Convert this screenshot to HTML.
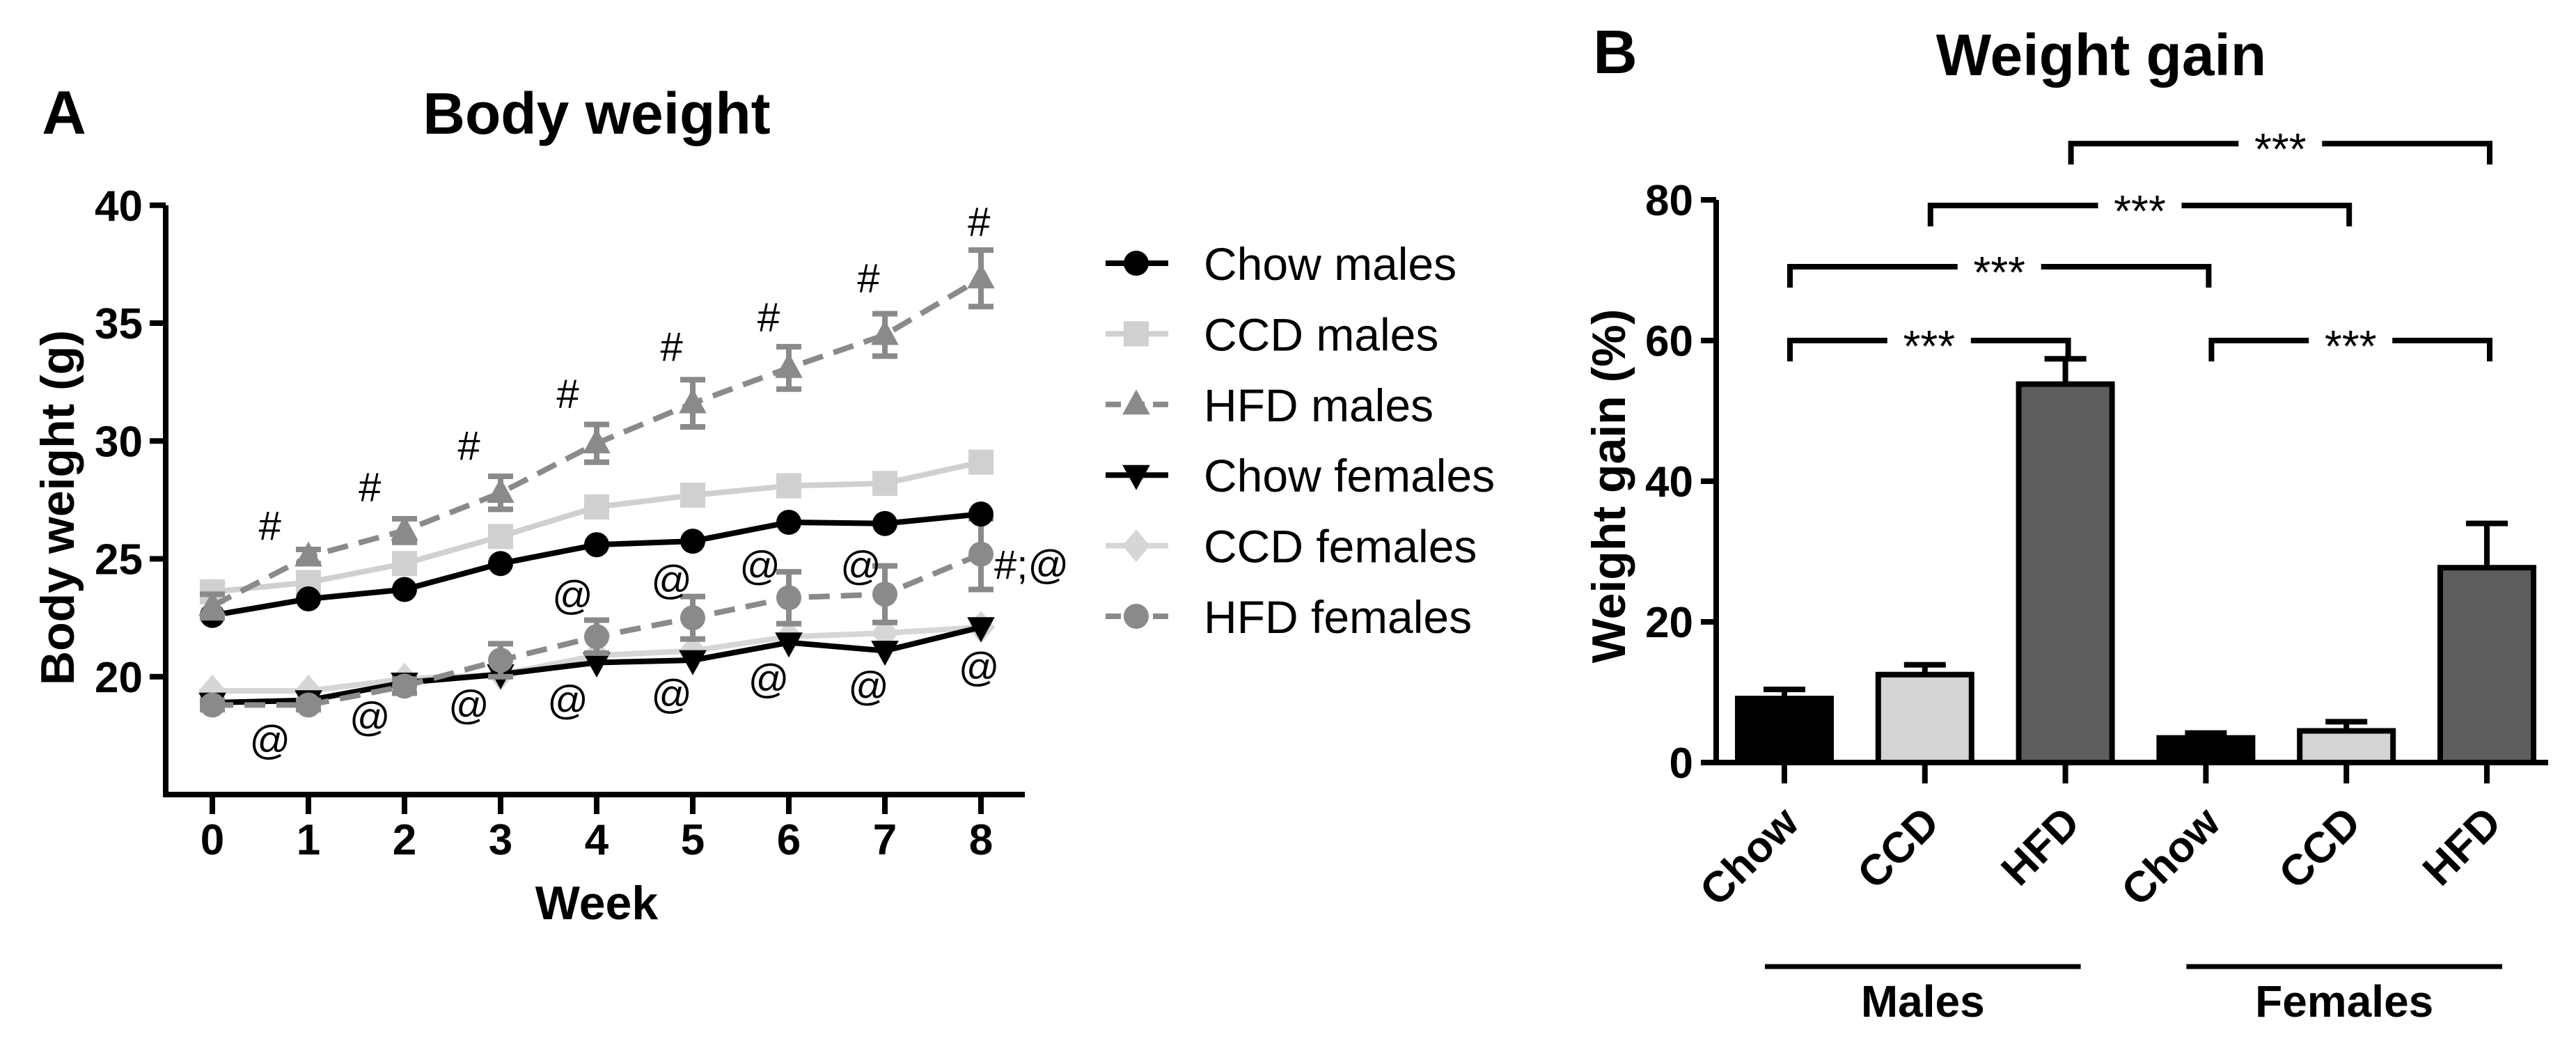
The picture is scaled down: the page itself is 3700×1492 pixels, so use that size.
<!DOCTYPE html>
<html><head><meta charset="utf-8"><style>
html,body{margin:0;padding:0;background:#fff;}
svg{display:block;font-family:"Liberation Sans",Arial,sans-serif;}
</style></head><body>
<svg id="fig" width="3700" height="1492" viewBox="0 0 3700 1492" xmlns="http://www.w3.org/2000/svg">
<rect width="3700" height="1492" fill="#fff"/>
<g id="panelA"></g>
<g id="panelB"></g>
</svg>
<script>
// ---------- Panel A data ----------
const weeks = [0,1,2,3,4,5,6,7,8];
const yTicksA = [20,25,30,35,40];
const chowMales = [22.6,23.3,23.7,24.8,25.6,25.75,26.55,26.5,26.9];
const ccdMales = [23.6,24.0,24.8,25.95,27.2,27.7,28.1,28.2,29.1];
const hfdMales = [23.0,25.1,26.2,27.8,29.9,31.6,33.1,34.5,36.9];
const hfdMalesErr = [0.5,0.3,0.5,0.7,0.8,1.0,0.9,0.9,1.2];
const chowFemales = [18.9,19.0,19.75,20.1,20.6,20.7,21.45,21.1,22.1];
const ccdFemales = [19.4,19.4,19.9,20.1,20.9,21.1,21.7,21.85,22.1];
const hfdFemales = [18.8,18.8,19.6,20.7,21.7,22.5,23.35,23.5,25.2];
const hfdFemalesErr = [0.2,0.2,0.3,0.7,0.7,0.9,1.1,1.2,1.5];
const hashX = [0.6,1.64,2.67,3.7,4.78,5.79,6.83,7.98];
const hashY = [26.4,28.05,29.8,32.0,34.0,35.25,36.9,39.3];
const atUpX = [3.75,4.78,5.7,6.75];
const atUpY = [23.45,24.1,24.7,24.7];
const atLowX = [0.6,1.64,2.67,3.7,4.78,5.79,6.83,7.98];
const atLowY = [17.3,18.3,18.8,19.0,19.25,19.9,19.6,20.4];
const legendLabels = ["Chow males","CCD males","HFD males","Chow females","CCD females","HFD females"];

// ---------- Panel B data ----------
const barCats = ["Chow","CCD","HFD","Chow","CCD","HFD"];
const barVals = [9.1,12.5,53.8,3.5,4.5,27.7];
const barErr = [1.3,1.4,3.6,0.7,1.3,6.3];
const yTicksB = [0,20,40,60,80];
const sigLeft = [0,0,1,2,3];
const sigRight = [2,3,4,5,5];
const sigLevel = [60,70.5,79.2,88,60];
const sigText = ["***","***","***","***","***"];
const groupLabels = ["Males","Females"];

const NS="http://www.w3.org/2000/svg";
function mk(parent,tag,attrs,text){const e=document.createElementNS(NS,tag);for(const k in attrs)e.setAttribute(k,attrs[k]);if(text!==undefined)e.textContent=text;parent.appendChild(e);return e;}

// ===== Panel A =====
const A=document.getElementById('panelA');
const xA=w=>305+w*138;
const yA=v=>1141-(v-15)*33.85;
let t;
t=mk(A,'text',{x:92,y:192,'font-size':88,'font-weight':'bold','text-anchor':'middle'},'A');

t=mk(A,'text',{x:857,y:192,'font-size':84,'font-weight':'bold','text-anchor':'middle'},'Body weight');

t=mk(A,'text',{x:0,y:0,'font-size':68,'font-weight':'bold','text-anchor':'middle',transform:'translate(106,729) rotate(-90)'},'Body weight (g)');

t=mk(A,'text',{x:857,y:1320,'font-size':68,'font-weight':'bold','text-anchor':'middle'},'Week');

let ax=mk(A,'path',{d:`M238 ${yA(40)} V${yA(15)} H1472`,stroke:'#000','stroke-width':8,fill:'none'});

yTicksA.forEach(v=>{
  let l=mk(A,'line',{x1:215,x2:238,y1:yA(v),y2:yA(v),stroke:'#000','stroke-width':8});
  
  let tx=mk(A,'text',{x:205,y:yA(v)+22,'font-size':62,'font-weight':'bold','text-anchor':'end'},String(v));
  
});
weeks.forEach(w=>{
  let l=mk(A,'line',{x1:xA(w),x2:xA(w),y1:yA(15),y2:yA(15)+28,stroke:'#000','stroke-width':8});
  
  let tx=mk(A,'text',{x:xA(w),y:1227,'font-size':62,'font-weight':'bold','text-anchor':'middle'},String(w));
  
});
function marker(g,shape,cx,cy,color,s){
  if(shape==='circle')return mk(g,'circle',{cx:cx,cy:cy,r:s,fill:color});
  if(shape==='square')return mk(g,'rect',{x:cx-s,y:cy-s,width:2*s,height:2*s,fill:color});
  if(shape==='tri')return mk(g,'polygon',{points:`${cx},${cy-s*1.2} ${cx-s*1.1},${cy+s*0.8} ${cx+s*1.1},${cy+s*0.8}`,fill:color});
  if(shape==='tridown')return mk(g,'polygon',{points:`${cx},${cy+s*1.2} ${cx-s*1.1},${cy-s*0.8} ${cx+s*1.1},${cy-s*0.8}`,fill:color});
  if(shape==='diamond')return mk(g,'polygon',{points:`${cx},${cy-s*1.3} ${cx+s*1.1},${cy} ${cx},${cy+s*1.3} ${cx-s*1.1},${cy}`,fill:color});
}
const seriesDefs=[
 {name:'ccd-females',vals:ccdFemales,err:null,color:'#d6d6d6',shape:'diamond',dash:null},
 {name:'chow-females',vals:chowFemales,err:null,color:'#000',shape:'tridown',dash:null},
 {name:'hfd-females',vals:hfdFemales,err:hfdFemalesErr,color:'#8a8a8a',shape:'circle',dash:'30 16'},
 {name:'ccd-males',vals:ccdMales,err:null,color:'#d0d0d0',shape:'square',dash:null},
 {name:'chow-males',vals:chowMales,err:null,color:'#000',shape:'circle',dash:null},
 {name:'hfd-males',vals:hfdMales,err:hfdMalesErr,color:'#8a8a8a',shape:'tri',dash:'30 16'}
];
seriesDefs.forEach(s=>{
  const g=mk(A,'g',{});
  
  const d=s.vals.map((v,i)=>(i?'L':'M')+xA(weeks[i])+' '+yA(v)).join(' ');
  const p=mk(g,'path',{d:d,stroke:s.color,'stroke-width':8,fill:'none'});
  if(s.dash)p.setAttribute('stroke-dasharray',s.dash);
  
  if(s.err){s.vals.forEach((v,i)=>{
    const x=xA(weeks[i]),y1=yA(v+s.err[i]),y2=yA(v-s.err[i]);
    const e=mk(g,'path',{d:`M${x} ${y1} V${y2} M${x-18} ${y1} H${x+18} M${x-18} ${y2} H${x+18}`,stroke:s.color,'stroke-width':8,fill:'none'});
    
  });}
  s.vals.forEach((v,i)=>{
    const m=marker(g,s.shape,xA(weeks[i]),yA(v),s.color,18);
    
  });
});
hashX.forEach((w,i)=>{
  const tx=mk(A,'text',{x:xA(w),y:yA(hashY[i])+20,'font-size':58,'text-anchor':'middle'},'#');
  
});
atUpX.forEach((w,i)=>{
  const tx=mk(A,'text',{x:xA(w),y:yA(atUpY[i])+20,'font-size':58,'text-anchor':'middle'},'@');
  
});
atLowX.forEach((w,i)=>{
  const tx=mk(A,'text',{x:xA(w),y:yA(atLowY[i])+20,'font-size':58,'text-anchor':'middle'},'@');
  
});
t=mk(A,'text',{x:1428,y:yA(24.75)+20,'font-size':58},'#;@');

const legShapes=['circle','square','tri','tridown','diamond','circle'];
const legColors=['#000','#d0d0d0','#8a8a8a','#000','#d6d6d6','#8a8a8a'];
const legDash=[null,null,'22 12',null,null,'22 12'];
legendLabels.forEach((lab,i)=>{
  const y=378+i*101.4;
  const g=mk(A,'g',{});
  
  const l=mk(g,'line',{x1:1588,x2:1678,y1:y,y2:y,stroke:legColors[i],'stroke-width':8});
  if(legDash[i])l.setAttribute('stroke-dasharray',legDash[i]);
  marker(g,legShapes[i],1632,y,legColors[i],18);
  mk(g,'text',{x:1729,y:y+24,'font-size':66},lab);
});

// ===== Panel B =====
const B=document.getElementById('panelB');
const yB=v=>1095-v*10.1;
const xB=i=>2563+i*201.8;
t=mk(B,'text',{x:2320,y:105,'font-size':88,'font-weight':'bold','text-anchor':'middle'},'B');

t=mk(B,'text',{x:3018,y:108,'font-size':84,'font-weight':'bold','text-anchor':'middle'},'Weight gain');

t=mk(B,'text',{x:0,y:0,'font-size':68,'font-weight':'bold','text-anchor':'middle',transform:'translate(2334,698) rotate(-90)'},'Weight gain (%)');

yTicksB.forEach(v=>{
  let l=mk(B,'line',{x1:2443,x2:2465,y1:yB(v),y2:yB(v),stroke:'#000','stroke-width':8});
  
  let tx=mk(B,'text',{x:2432,y:yB(v)+22,'font-size':62,'font-weight':'bold','text-anchor':'end'},String(v));
  
});
const barFill=['#000','#d4d4d4','#5e5e5e','#000','#d4d4d4','#5e5e5e'];
barVals.forEach((v,i)=>{
  const cx=xB(i);
  const e=mk(B,'path',{d:`M${cx} ${yB(v)} V${yB(v+barErr[i])} M${cx-30} ${yB(v+barErr[i])} H${cx+30}`,stroke:'#000','stroke-width':8,fill:'none'});
  
  const r=mk(B,'rect',{x:cx-67,y:yB(v),width:134,height:yB(0)-yB(v),fill:barFill[i],stroke:'#000','stroke-width':8});
  
  const tk=mk(B,'line',{x1:cx,x2:cx,y1:yB(0),y2:yB(0)+30,stroke:'#000','stroke-width':8});
  
  const tx=mk(B,'text',{x:0,y:0,'font-size':62,'font-weight':'bold','text-anchor':'end',transform:`translate(${cx+24},${yB(0)+90}) rotate(-45)`},barCats[i]);
  
});
ax=mk(B,'path',{d:`M2465 ${yB(80)} V${yB(0)} H3660`,stroke:'#000','stroke-width':8,fill:'none'});

sigLeft.forEach((a,k)=>{
  const x1=xB(a)+8,x2=xB(sigRight[k])+4,y=yB(sigLevel[k]);
  const mid=(x1+x2)/2;
  const g=mk(B,'g',{});
  
  mk(g,'path',{d:`M${x1} ${y+30} V${y} H${mid-60} M${mid+60} ${y} H${x2} V${y+30}`,stroke:'#000','stroke-width':8,fill:'none'});
  mk(g,'text',{x:mid,y:y+30,'font-size':64,'text-anchor':'middle'},sigText[k]);
});
groupLabels.forEach((lab,i)=>{
  const x1=xB(i*3)-28,x2=xB(i*3+2)+22;
  const l=mk(B,'line',{x1:x1,x2:x2,y1:1388,y2:1388,stroke:'#000','stroke-width':7});
  
  const tx=mk(B,'text',{x:(x1+x2)/2,y:1460,'font-size':64,'font-weight':'bold','text-anchor':'middle'},lab);
  
});
</script>
</body></html>
